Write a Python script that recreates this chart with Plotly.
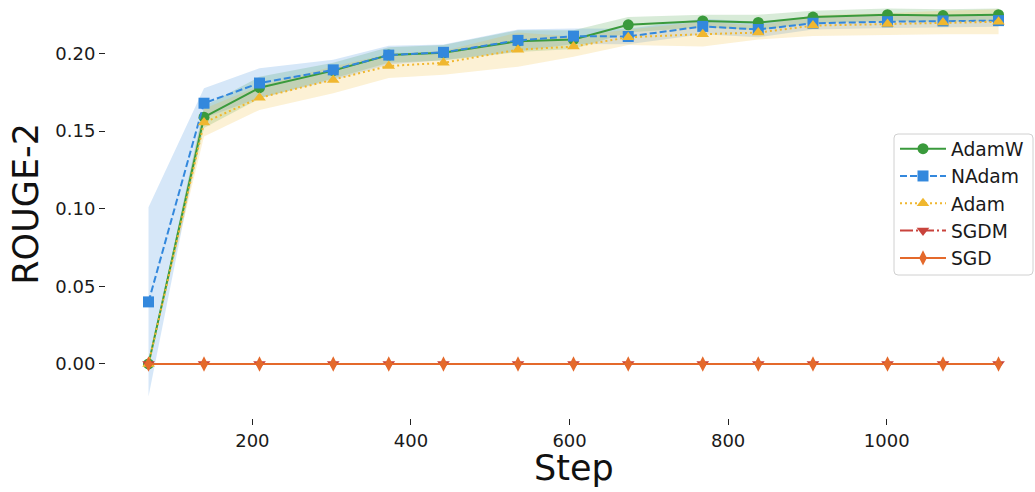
import plotly.graph_objects as go

steps = [69, 139, 209, 302, 372, 441, 535, 605, 674, 768, 838, 907, 1001, 1071, 1141]

adamw = [0.0, 0.159, 0.178, 0.189, 0.199, 0.2005, 0.208, 0.209, 0.2185, 0.221, 0.220, 0.2235, 0.225, 0.2245, 0.225]
adamw_std = [0.0, 0.007, 0.007, 0.005, 0.005, 0.005, 0.007, 0.006, 0.005, 0.004, 0.005, 0.004, 0.004, 0.004, 0.004]

nadam = [0.040, 0.168, 0.181, 0.1895, 0.199, 0.2008, 0.2085, 0.2112, 0.211, 0.2175, 0.2155, 0.2195, 0.2205, 0.221, 0.2212]
nadam_std = [0.061, 0.0096, 0.0096, 0.0065, 0.006, 0.005, 0.007, 0.005, 0.005, 0.005, 0.005, 0.004, 0.004, 0.004, 0.004]

adam = [0.0, 0.1555, 0.1715, 0.183, 0.192, 0.194, 0.2025, 0.2045, 0.2105, 0.2125, 0.2135, 0.218, 0.219, 0.2200, 0.2205]
adam_std = [0.0, 0.009, 0.0078, 0.0086, 0.0077, 0.0077, 0.0110, 0.0065, 0.005, 0.008, 0.0045, 0.0067, 0.007, 0.0075, 0.008]

sgdm = [0.0] * 15
sgdm_std = [0.0] * 15
sgd = [0.0] * 15
sgd_std = [0.0] * 15

series = [
    ("AdamW", adamw, adamw_std, "#3a9a3c", "circle", "solid", "rgba(58,154,60,0.2)"),
    ("NAdam", nadam, nadam_std, "#3388dd", "square", "7px,3px", "rgba(51,136,221,0.2)"),
    ("Adam", adam, adam_std, "#f0b72f", "triangle-up", "2px,3px", "rgba(240,183,47,0.2)"),
    ("SGDM", sgdm, sgdm_std, "#c9433c", "triangle-down", "13px,3px,2px,3px", "rgba(201,67,60,0.2)"),
    ("SGD", sgd, sgd_std, "#e4692b", "diamond-tall", "solid", "rgba(228,105,43,0.2)"),
]

W, H = 1035, 492
L, R, T, B = 106, 0, 0, 74
pw, ph = W - L - R, H - T - B


def px(xp):
    return (xp - L) / pw


def py(yp):
    return (T + ph - yp) / ph


fig = go.Figure()
for name, vals, std, color, sym, dash, fillc in series:
    upper = [v + s for v, s in zip(vals, std)]
    lower = [v - s for v, s in zip(vals, std)]
    fig.add_trace(go.Scatter(
        x=steps + steps[::-1], y=upper + lower[::-1], fill="toself",
        fillcolor=fillc, line=dict(width=0), mode="lines",
        showlegend=False, hoverinfo="skip"))
for name, vals, std, color, sym, dash, fillc in series:
    fig.add_trace(go.Scatter(
        x=steps, y=vals, name=name, mode="lines+markers",
        line=dict(color=color, width=2, dash=dash),
        marker=dict(symbol=sym, size=11, color=color, line=dict(width=0))))

# rounded legend frame
x0, x1, y0, y1, r = 894, 1033, 134, 275, 4
rx, ry = r / pw, r / ph
X0, X1, Y0, Y1 = px(x0), px(x1), py(y1), py(y0)
path = (f"M {X0+rx},{Y0} L {X1-rx},{Y0} Q {X1},{Y0} {X1},{Y0+ry} "
        f"L {X1},{Y1-ry} Q {X1},{Y1} {X1-rx},{Y1} L {X0+rx},{Y1} "
        f"Q {X0},{Y1} {X0},{Y1-ry} L {X0},{Y0+ry} Q {X0},{Y0} {X0+rx},{Y0} Z")

fig.update_layout(
    width=W, height=H,
    margin=dict(l=L, r=R, t=T, b=B, autoexpand=False),
    plot_bgcolor="white", paper_bgcolor="white",
    font=dict(family="DejaVu Sans", size=18, color="#1a1a1a"),
    legend=dict(x=px(895), xanchor="left", y=py(130), yanchor="top",
                bgcolor="rgba(0,0,0,0)", borderwidth=0, itemwidth=46,
                font=dict(size=18.7, family="DejaVu Sans")),
    shapes=[dict(type="path", path=path, xref="paper", yref="paper", layer="above",
                 fillcolor="rgba(255,255,255,0.8)", line=dict(color="#d0d0d0", width=1))],
    xaxis=dict(range=[15.4, 1187], tickvals=[200, 400, 600, 800, 1000],
               showgrid=False, zeroline=False, showline=False, automargin=False,
               ticks="outside", ticklen=6, tickwidth=1, tickcolor="#222"),
    yaxis=dict(range=[-0.0348, 0.2345], tickvals=[0, 0.05, 0.10, 0.15, 0.20],
               tickformat=".2f", automargin=False,
               showgrid=False, zeroline=False, showline=False,
               ticks="outside", ticklen=6, tickwidth=1, tickcolor="#222"),
    annotations=[
        dict(text="Step", xref="paper", yref="paper",
             x=px(573.5), y=py(468), xanchor="center", yanchor="middle",
             showarrow=False, font=dict(size=35, family="DejaVu Sans", color="#111")),
        dict(text="ROUGE-2", xref="paper", yref="paper", textangle=-90,
             x=px(25.7), y=py(204), xanchor="center", yanchor="middle",
             showarrow=False, font=dict(size=35, family="DejaVu Sans", color="#111")),
    ],
)

fig.write_html("out.html", config={"displayModeBar": False},
               post_script="document.body.style.margin='0';")
